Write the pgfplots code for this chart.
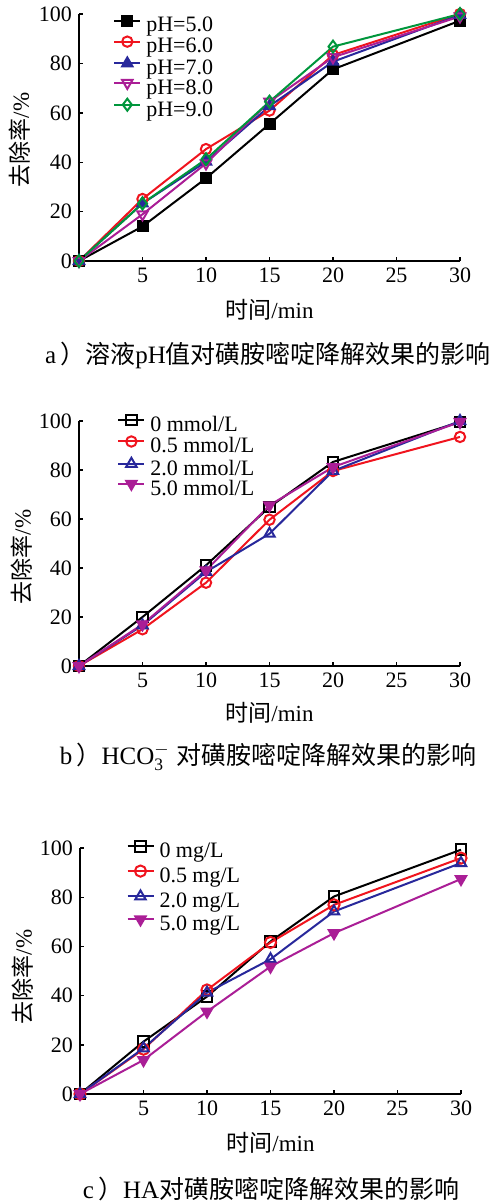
\documentclass[border=0pt]{standalone}
\usepackage{fontspec}
\setmainfont{Liberation Serif}
\newfontfamily\cjk{Noto Sans CJK SC}
\usepackage{pgfplots}
\pgfplotsset{compat=1.18}
\definecolor{cred}{RGB}{240,20,30}
\definecolor{cblue}{RGB}{40,40,155}
\definecolor{cmag}{RGB}{170,30,150}
\definecolor{cgreen}{RGB}{0,150,60}
\pgfplotsset{
 myaxis/.style={
  scale only axis, width=190.5pt,
  xmin=0,xmax=30,ymin=0,ymax=100,
  axis lines=left, axis line style={-, line width=0.7pt},
  xtick={5,10,15,20,25,30}, ytick={0,20,...,100},
  tick align=inside, major tick length=2.2pt,
  tick style={line width=0.7pt, black},
  ticklabel style={font=\fontsize{11}{13}\selectfont},
  /pgf/number format/assume math mode=true,
  clip=false,
  xlabel={{\cjk 时间}/min}, ylabel={{\cjk 去除率}/\%},
  label style={font=\fontsize{11.5}{13}\selectfont},
  legend cell align=left,
  legend style={draw=none, fill=none, inner sep=0pt, font=\fontsize{11}{13}\selectfont,
    nodes={inner sep=0pt, text height=7.5pt, text depth=2.2pt}, column sep=2.5pt},
  legend image code/.code={\draw[mark repeat=2,mark phase=2] plot coordinates {(0pt,3pt)(6.5pt,3pt)(13pt,3pt)};},
  every axis plot/.append style={line width=1pt},
 }
}
\begin{document}
\begin{tikzpicture}
\useasboundingbox (0pt,0pt) rectangle (245.5pt,-600.5pt);
% ---------- panel a ----------
\begin{axis}[myaxis, height=123.5pt, at={(39.5pt,-130.5pt)}, anchor=south west,
  xlabel style={at={(axis description cs:0.5,-0.198)}, anchor=center},
  ylabel style={at={(axis description cs:-0.155,0.49)}, anchor=center},
  legend style={at={(axis description cs:0.089,0.995)}, anchor=north west, row sep=0.05pt}]
\addplot[black, mark=square*, mark size=2.5pt, mark options={solid, fill=black}] coordinates {(0,0)(5,14)(10,33.5)(15,55.5)(20,77.6)(30,97.3)};
\addplot[cred, mark=o, mark size=2.6pt, mark options={solid, fill=white}] coordinates {(0,0)(5,25.1)(10,45.3)(15,60.9)(20,83.4)(30,100)};
\addplot[cblue, mark=triangle*, mark size=3pt, mark options={solid, fill=cblue}] coordinates {(0,0)(5,23.3)(10,40.2)(15,62.7)(20,80.7)(30,99.6)};
\addplot[cmag, mark=triangle, mark size=3pt, mark options={solid, rotate=180, fill=white}] coordinates {(0,0)(5,18.9)(10,39.5)(15,64.5)(20,82.5)(30,99)};
\addplot[cgreen, mark=diamond, mark size=3pt, mark options={solid, fill=white}] coordinates {(0,0)(5,23.3)(10,41.2)(15,64.5)(20,86.8)(30,100)};
\legend{pH=5.0,pH=6.0,pH=7.0,pH=8.0,pH=9.0}
\end{axis}
% ---------- panel b ----------
\begin{axis}[myaxis, height=122.5pt, at={(39.5pt,-333pt)}, anchor=south west,
  xlabel style={at={(axis description cs:0.5,-0.192)}, anchor=center},
  ylabel style={at={(axis description cs:-0.150,0.445)}, anchor=center},
  legend style={at={(axis description cs:0.0997,1.027)}, anchor=north west, row sep=0.3pt}]
\addplot[black, mark=square, mark size=2.6pt, mark options={solid, fill=white}] coordinates {(0,0)(5,20)(10,41.1)(15,64.9)(20,83.3)(30,99.6)};
\addplot[cred, mark=o, mark size=2.6pt, mark options={solid, fill=white}] coordinates {(0,0)(5,15)(10,34)(15,59.7)(20,79.6)(30,93.5)};
\addplot[cblue, mark=triangle, mark size=3pt, mark options={solid, fill=white}] coordinates {(0,0)(5,16.6)(10,38.4)(15,54)(20,79.6)(30,100)};
\addplot[cmag, mark=triangle*, mark size=3pt, mark options={solid, rotate=180, fill=cmag}] coordinates {(0,0)(5,17)(10,39)(15,65.6)(20,81.2)(30,99.6)};
\legend{0 mmol/L,0.5 mmol/L,2.0 mmol/L,5.0 mmol/L}
\end{axis}
% ---------- panel c ----------
\begin{axis}[myaxis, height=123pt, at={(40pt,-547pt)}, anchor=south west,
  xlabel style={at={(axis description cs:0.5,-0.199)}, anchor=center},
  ylabel style={at={(axis description cs:-0.150,0.476)}, anchor=center},
  legend style={at={(axis description cs:0.121,1.031)}, anchor=north west, row sep=1.8pt}]
\addplot[black, mark=square, mark size=2.7pt, mark options={solid, fill=white}] coordinates {(0,0)(5,21.3)(10,39.6)(15,62)(20,80.3)(30,99.3)};
\addplot[cred, mark=o, mark size=2.8pt, mark options={solid, fill=white}] coordinates {(0,0)(5,18.2)(10,42.3)(15,61.6)(20,76.9)(30,95.9)};
\addplot[cblue, mark=triangle, mark size=3pt, mark options={solid, fill=white}] coordinates {(0,0)(5,18.6)(10,41.2)(15,54.8)(20,74.2)(30,93.9)};
\addplot[cmag, mark=triangle*, mark size=3pt, mark options={solid, rotate=180, fill=cmag}] coordinates {(0,0)(5,13.8)(10,33.5)(15,51.8)(20,65.4)(30,87.4)};
\legend{0 mg/L,0.5 mg/L,2.0 mg/L,5.0 mg/L}
\end{axis}
% ---------- captions ----------
\node[anchor=center, font=\fontsize{12.5}{14}\selectfont] at (134pt,-177.5pt) {a\,{\cjk ）溶液}pH{\cjk 值对磺胺嘧啶降解效果的影响}};
\node[anchor=center, font=\fontsize{12.5}{14}\selectfont] at (134pt,-378.5pt) {b\,{\cjk ）}HCO$_{\mathrm{3}}^{-}$\ {\cjk 对磺胺嘧啶降解效果的影响}};
\node[anchor=center, font=\fontsize{12.5}{14}\selectfont] at (135.5pt,-594.5pt) {c\,{\cjk ）}HA{\cjk 对磺胺嘧啶降解效果的影响}};
\end{tikzpicture}
\end{document}
